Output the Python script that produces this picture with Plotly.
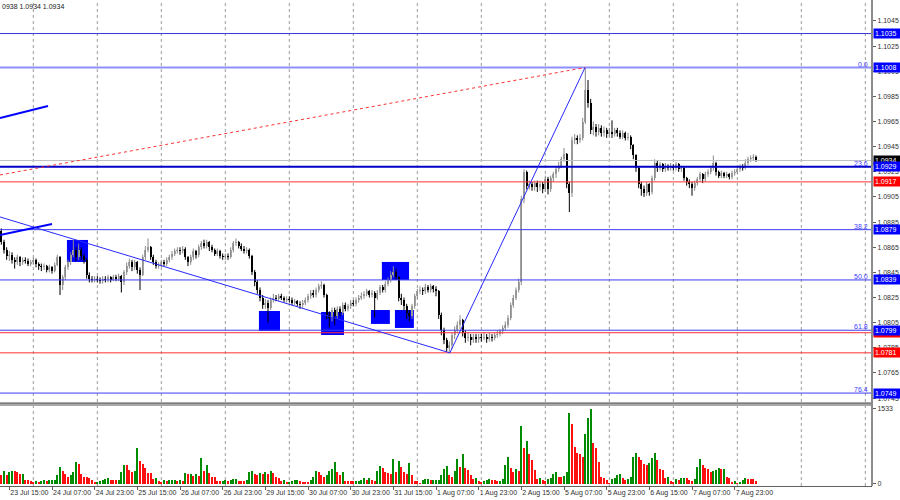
import plotly.graph_objects as go

# ---------------- DATA ----------------
START_BAR = -3            # bar index of first candle (0 = 23 Jul 15:00), H1 bars
first_open = 1.0878

close = [
    # 23 Jul (tail)
    1.0869, 1.0863, 1.0858, 1.0859, 1.0855, 1.0853, 1.0857, 1.0853, 1.0855, 1.0854, 1.0852, 1.0853,
    # 24 Jul
    1.0855, 1.0852, 1.0850, 1.0849, 1.0850, 1.0847, 1.0849, 1.0846, 1.0851, 1.0857, 1.0835, 1.0841,
    1.0849, 1.0853, 1.0859, 1.0863, 1.0857, 1.0863, 1.0858, 1.0855, 1.0843, 1.0840, 1.0839, 1.0840,
    # 25 Jul
    1.0839, 1.0838, 1.0840, 1.0839, 1.0841, 1.0839, 1.0841, 1.0840, 1.0842, 1.0837, 1.0845, 1.0850,
    1.0853, 1.0849, 1.0853, 1.0847, 1.0843, 1.0857, 1.0863, 1.0865, 1.0857, 1.0853, 1.0850, 1.0851,
    # 26 Jul
    1.0853, 1.0852, 1.0855, 1.0857, 1.0860, 1.0862, 1.0863, 1.0862, 1.0864, 1.0857, 1.0853, 1.0857,
    1.0862, 1.0859, 1.0865, 1.0868, 1.0866, 1.0869, 1.0865, 1.0863, 1.0860, 1.0862, 1.0858, 1.0857,
    # 29 Jul
    1.0858, 1.0857, 1.0863, 1.0868, 1.0869, 1.0866, 1.0864, 1.0862, 1.0863, 1.0858, 1.0845, 1.0837,
    1.0831, 1.0825, 1.0819, 1.0821, 1.0817, 1.0823, 1.0825, 1.0824, 1.0826, 1.0825, 1.0823, 1.0824,
    # 30 Jul
    1.0823, 1.0821, 1.0822, 1.0820, 1.0819, 1.0821, 1.0823, 1.0826, 1.0829, 1.0827, 1.0831, 1.0834,
    1.0835, 1.0827, 1.0811, 1.0809, 1.0815, 1.0810, 1.0816, 1.0813, 1.0819, 1.0816, 1.0818, 1.0821,
    # 31 Jul
    1.0820, 1.0823, 1.0825, 1.0826, 1.0828, 1.0830, 1.0827, 1.0829, 1.0825, 1.0829, 1.0833, 1.0831,
    1.0836, 1.0839, 1.0843, 1.0845, 1.0841, 1.0825, 1.0823, 1.0818, 1.0813, 1.0810, 1.0818, 1.0826,
    # 1 Aug
    1.0830, 1.0831, 1.0830, 1.0833, 1.0831, 1.0834, 1.0832, 1.0830, 1.0811, 1.0799, 1.0791, 1.0785,
    1.0787, 1.0795, 1.0799, 1.0803, 1.0807, 1.0797, 1.0793, 1.0794, 1.0791, 1.0794, 1.0792, 1.0794,
    # 2 Aug
    1.0793, 1.0794, 1.0792, 1.0794, 1.0793, 1.0795, 1.0796, 1.0798, 1.0801, 1.0803, 1.0809, 1.0819,
    1.0825, 1.0831, 1.0837, 1.0903, 1.0925, 1.0914, 1.0915, 1.0913, 1.0916, 1.0913, 1.0915, 1.0911,
    # 5 Aug
    1.0919, 1.0911, 1.0920, 1.0923, 1.0927, 1.0930, 1.0935, 1.0939, 1.0915, 1.0908, 1.0950, 1.0952,
    1.0950, 1.0952, 1.0965, 1.0990, 1.0980, 1.0958, 1.0961, 1.0957, 1.0960, 1.0956, 1.0958, 1.0955,
    # 6 Aug
    1.0957, 1.0955, 1.0958, 1.0956, 1.0953, 1.0956, 1.0952, 1.0953, 1.0946, 1.0938, 1.0928, 1.0915,
    1.0911, 1.0908, 1.0915, 1.0909, 1.0920, 1.0932, 1.0928, 1.0931, 1.0927, 1.0930, 1.0928, 1.0930,
    # 7 Aug
    1.0928, 1.0931, 1.0927, 1.0928, 1.0920, 1.0917, 1.0915, 1.0912, 1.0916, 1.0919, 1.0923, 1.0919,
    1.0923, 1.0925, 1.0928, 1.0932, 1.0925, 1.0922, 1.0924, 1.0922, 1.0923, 1.0921, 1.0924, 1.0925,
    # 8 Aug
    1.0927, 1.0929, 1.0928, 1.0932, 1.0935, 1.0936, 1.0937, 1.0934,
]

high = [
    1.0880, 1.0871, 1.0865, 1.0862, 1.0861, 1.0857, 1.0859, 1.0858, 1.0857, 1.0857, 1.0856, 1.0855,
    1.0857, 1.0856, 1.0853, 1.0852, 1.0852, 1.0851, 1.0851, 1.0850, 1.0853, 1.0859, 1.0858, 1.0843,
    1.0851, 1.0855, 1.0861, 1.0871, 1.0865, 1.0868, 1.0865, 1.0860, 1.0856, 1.0845, 1.0842, 1.0842,
    1.0842, 1.0841, 1.0842, 1.0842, 1.0843, 1.0842, 1.0843, 1.0843, 1.0844, 1.0843, 1.0847, 1.0853,
    1.0856, 1.0855, 1.0855, 1.0854, 1.0849, 1.0859, 1.0866, 1.0872, 1.0866, 1.0859, 1.0855, 1.0853,
    1.0855, 1.0855, 1.0857, 1.0859, 1.0862, 1.0864, 1.0865, 1.0865, 1.0866, 1.0865, 1.0858, 1.0859,
    1.0864, 1.0863, 1.0867, 1.0870, 1.0871, 1.0871, 1.0870, 1.0867, 1.0864, 1.0864, 1.0863, 1.0860,
    1.0860, 1.0860, 1.0865, 1.0870, 1.0872, 1.0870, 1.0868, 1.0866, 1.0865, 1.0864, 1.0859, 1.0847,
    1.0839, 1.0833, 1.0827, 1.0824, 1.0823, 1.0825, 1.0828, 1.0827, 1.0828, 1.0828, 1.0826, 1.0826,
    1.0826, 1.0825, 1.0824, 1.0823, 1.0822, 1.0823, 1.0825, 1.0828, 1.0831, 1.0831, 1.0833, 1.0836,
    1.0838, 1.0836, 1.0828, 1.0814, 1.0817, 1.0817, 1.0818, 1.0818, 1.0821, 1.0821, 1.0820, 1.0823,
    1.0823, 1.0825, 1.0827, 1.0829, 1.0830, 1.0832, 1.0831, 1.0831, 1.0830, 1.0831, 1.0835, 1.0835,
    1.0838, 1.0841, 1.0846, 1.0850, 1.0848, 1.0842, 1.0828, 1.0825, 1.0820, 1.0815, 1.0820, 1.0828,
    1.0832, 1.0834, 1.0833, 1.0836, 1.0835, 1.0836, 1.0835, 1.0834, 1.0831, 1.0813, 1.0801, 1.0793,
    1.0790, 1.0797, 1.0802, 1.0806, 1.0811, 1.0808, 1.0799, 1.0797, 1.0796, 1.0796, 1.0796, 1.0796,
    1.0796, 1.0797, 1.0796, 1.0797, 1.0796, 1.0797, 1.0799, 1.0800, 1.0803, 1.0806, 1.0811, 1.0821,
    1.0827, 1.0833, 1.0840, 1.0906, 1.0927, 1.0926, 1.0918, 1.0917, 1.0918, 1.0918, 1.0918, 1.0917,
    1.0922, 1.0921, 1.0922, 1.0925, 1.0929, 1.0933, 1.0937, 1.0944, 1.0940, 1.0917, 1.0953, 1.0955,
    1.0954, 1.0955, 1.0968, 1.1008, 1.0998, 1.0983, 1.0965, 1.0963, 1.0963, 1.0962, 1.0961, 1.0960,
    1.0960, 1.0966, 1.0960, 1.0960, 1.0958, 1.0958, 1.0957, 1.0956, 1.0954, 1.0947, 1.0939, 1.0929,
    1.0917, 1.0914, 1.0917, 1.0916, 1.0922, 1.0935, 1.0934, 1.0933, 1.0932, 1.0932, 1.0931, 1.0932,
    1.0931, 1.0933, 1.0932, 1.0930, 1.0929, 1.0921, 1.0919, 1.0917, 1.0918, 1.0921, 1.0925, 1.0924,
    1.0925, 1.0927, 1.0930, 1.0938, 1.0933, 1.0926, 1.0926, 1.0925, 1.0925, 1.0924, 1.0926, 1.0927,
    1.0929, 1.0931, 1.0931, 1.0935, 1.0937, 1.0938, 1.0939, 1.0938,
]

low = [
    1.0867, 1.0860, 1.0855, 1.0854, 1.0852, 1.0848, 1.0851, 1.0850, 1.0851, 1.0852, 1.0850, 1.0850,
    1.0851, 1.0849, 1.0847, 1.0846, 1.0847, 1.0845, 1.0845, 1.0844, 1.0845, 1.0850, 1.0827, 1.0831,
    1.0839, 1.0847, 1.0851, 1.0857, 1.0854, 1.0855, 1.0855, 1.0852, 1.0840, 1.0837, 1.0837, 1.0837,
    1.0837, 1.0836, 1.0836, 1.0837, 1.0837, 1.0837, 1.0838, 1.0838, 1.0838, 1.0829, 1.0835, 1.0843,
    1.0848, 1.0846, 1.0847, 1.0844, 1.0831, 1.0842, 1.0855, 1.0861, 1.0855, 1.0851, 1.0848, 1.0848,
    1.0849, 1.0850, 1.0850, 1.0853, 1.0855, 1.0858, 1.0860, 1.0859, 1.0860, 1.0855, 1.0850, 1.0851,
    1.0855, 1.0856, 1.0857, 1.0863, 1.0864, 1.0864, 1.0862, 1.0861, 1.0858, 1.0858, 1.0856, 1.0855,
    1.0855, 1.0855, 1.0856, 1.0861, 1.0866, 1.0864, 1.0862, 1.0860, 1.0860, 1.0856, 1.0843, 1.0834,
    1.0828, 1.0822, 1.0816, 1.0816, 1.0805, 1.0815, 1.0821, 1.0822, 1.0822, 1.0823, 1.0821, 1.0821,
    1.0821, 1.0819, 1.0819, 1.0818, 1.0816, 1.0817, 1.0819, 1.0821, 1.0824, 1.0825, 1.0825, 1.0829,
    1.0832, 1.0825, 1.0808, 1.0801, 1.0806, 1.0803, 1.0808, 1.0810, 1.0811, 1.0814, 1.0814, 1.0816,
    1.0818, 1.0818, 1.0821, 1.0823, 1.0824, 1.0826, 1.0825, 1.0825, 1.0809, 1.0823, 1.0827, 1.0829,
    1.0829, 1.0834, 1.0837, 1.0841, 1.0839, 1.0822, 1.0819, 1.0815, 1.0808, 1.0806, 1.0808, 1.0816,
    1.0824, 1.0828, 1.0827, 1.0828, 1.0829, 1.0829, 1.0829, 1.0826, 1.0808, 1.0795, 1.0788, 1.0782,
    1.0781, 1.0784, 1.0792, 1.0797, 1.0800, 1.0794, 1.0789, 1.0790, 1.0787, 1.0789, 1.0789, 1.0789,
    1.0790, 1.0791, 1.0789, 1.0790, 1.0790, 1.0791, 1.0793, 1.0794, 1.0796, 1.0799, 1.0801, 1.0807,
    1.0817, 1.0823, 1.0829, 1.0835, 1.0900, 1.0911, 1.0911, 1.0910, 1.0910, 1.0909, 1.0910, 1.0908,
    1.0909, 1.0907, 1.0909, 1.0917, 1.0920, 1.0925, 1.0928, 1.0933, 1.0912, 1.0893, 1.0905, 1.0947,
    1.0947, 1.0948, 1.0950, 1.0963, 1.0976, 1.0955, 1.0954, 1.0953, 1.0954, 1.0953, 1.0953, 1.0952,
    1.0953, 1.0952, 1.0953, 1.0953, 1.0951, 1.0951, 1.0950, 1.0950, 1.0943, 1.0935, 1.0925, 1.0912,
    1.0906, 1.0905, 1.0906, 1.0906, 1.0907, 1.0918, 1.0925, 1.0926, 1.0925, 1.0925, 1.0926, 1.0926,
    1.0926, 1.0926, 1.0925, 1.0925, 1.0918, 1.0914, 1.0912, 1.0906, 1.0910, 1.0914, 1.0917, 1.0916,
    1.0917, 1.0921, 1.0923, 1.0926, 1.0922, 1.0920, 1.0920, 1.0920, 1.0920, 1.0919, 1.0919, 1.0922,
    1.0923, 1.0925, 1.0926, 1.0927, 1.0930, 1.0933, 1.0934, 1.0933,
]

volume = [
    184, 266, 184, 252, 273, 266, 252, 204, 210, 82,
    80, 61, 48, 61, 48, 68, 82, 61, 75, 78,
    82, 184, 354, 266, 204, 150, 184, 252, 457, 409,
    204, 150, 148, 116, 82, 48, 50, 52, 82, 102,
    116, 82, 80, 78, 82, 252, 388, 385, 286, 252,
    273, 729, 477, 409, 320, 218, 215, 102, 116, 68,
    48, 82, 61, 82, 84, 86, 61, 75, 61, 218,
    204, 206, 164, 204, 164, 525, 273, 388, 218, 150,
    148, 68, 64, 70, 75, 61, 82, 95, 98, 68,
    61, 58, 82, 239, 273, 204, 184, 218, 204, 252,
    204, 266, 232, 136, 130, 68, 75, 48, 50, 61,
    75, 78, 61, 48, 46, 44, 82, 136, 273, 252,
    184, 150, 184, 273, 300, 457, 252, 184, 252, 68,
    66, 61, 58, 61, 64, 82, 116, 82, 116, 82,
    68, 273, 368, 320, 252, 218, 204, 504, 252, 463,
    354, 252, 204, 422, 184, 68, 66, 27, 82, 95,
    98, 82, 85, 88, 90, 184, 300, 368, 184,
    150, 273, 504, 354, 613, 320, 286, 184, 95, 116,
    61, 48, 61, 82, 95, 82, 80, 61, 68, 95,
    388, 545, 320, 252, 300, 273, 1186, 729, 879, 613,
    490, 286, 102, 116, 82, 68, 102, 116, 204, 239,
    150, 136, 164, 252, 1444, 1226, 750, 640, 613, 559,
    1015, 1342, 1533, 845, 729, 457, 136, 116, 82, 27,
    95, 116, 184, 204, 116, 82, 102, 136, 545, 640,
    545, 490, 402, 382, 422, 525, 627, 490, 300, 286,
    116, 150, 68, 48, 95, 82, 116, 130, 125, 82,
    68, 102, 354, 504, 388, 320, 300, 252, 260, 286,
    320, 300, 310, 136, 130, 48, 61, 27, 48, 82,
    116, 102, 95, 92, 68,
]

tick_bars = [0, 16, 32, 48, 64, 80, 96, 112, 128, 144, 160, 176, 192, 208, 224, 240, 256, 272]
tick_labels = ["23 Jul 15:00", "24 Jul 07:00", "24 Jul 23:00", "25 Jul 15:00", "26 Jul 07:00",
               "26 Jul 23:00", "29 Jul 15:00", "30 Jul 07:00", "30 Jul 23:00", "31 Jul 15:00",
               "1 Aug 07:00", "1 Aug 23:00", "2 Aug 15:00", "5 Aug 07:00", "5 Aug 23:00",
               "6 Aug 15:00", "7 Aug 07:00", "7 Aug 23:00"]
day_start_bars = [9, 33, 57, 81, 105, 129, 153, 177, 201, 225, 249, 273, 297, 321]

price_ticks = [1.0745, 1.0765, 1.0785, 1.0805, 1.0825, 1.0845, 1.0865, 1.0885,
               1.0905, 1.0925, 1.0945, 1.0965, 1.0985, 1.1005, 1.1025, 1.1045]

level_prices = [1.1035, 1.1008, 1.0934, 1.0929, 1.0917, 1.0879, 1.0839, 1.0797, 1.0799, 1.0781, 1.0749]
level_kinds = ["res", "fib0", "bid", "fib", "red", "fib", "fib", "red", "fib", "red", "fib"]

fib_names = ["0.0", "23.6", "38.2", "50.0", "61.8", "76.4"]
fib_prices = [1.1008, 1.0929, 1.0879, 1.0839, 1.0799, 1.0749]

# drawn objects (bar index, price)
trend_lines = [
    (-3.5, 1.08891, 165.2, 1.0781, "thin"),
    (165.2, 1.0781, 215.9, 1.1008, "thin"),
    (-3.5, 1.09225, 215.9, 1.1008, "dot"),
    (-3.5, 1.09678, 14.5, 1.09774, "thick"),
    (-3.5, 1.08748, 16.0, 1.08835, "thick"),
]
boxes = [
    (21.6, 29.5, 1.08533, 1.08708),
    (93.6, 101.5, 1.07984, 1.08143),
    (116.9, 125.5, 1.07952, 1.08135),
    (135.6, 142.7, 1.08040, 1.08151),
    (139.7, 149.9, 1.08390, 1.08533),
    (144.6, 151.7, 1.08008, 1.08151),
]
header_text = "0938 1.0934 1.0934"
volume_max_label = 1533

# ---------------- LAYOUT GEOMETRY ----------------
W, H = 900, 500
PLOT_R = 872          # px, right edge of plotting area
MAIN_BOT = 403        # px
VOL_TOP, VOL_BOT = 406, 486
X_RANGE = [-3.5, 323.5]
Y_RANGE = [1.07411, 1.10617]
V_RANGE = [-41, 1594]

def py(p):  # pixel y -> paper
    return 1 - p / H

def px(p):
    return p / W

n = min(len(close), len(high), len(low), len(volume))
close, high, low, volume = close[:n], high[:n], low[:n], volume[:n]
idx = list(range(START_BAR, START_BAR + n))
opens = [first_open] + close[:-1]

FONT = "Liberation Sans, Arial, sans-serif"
BULL_BODY, BULL_WICK = "#a6a6a6", "#8a8a8a"
BEAR_BODY, BEAR_WICK = "#000000", "#000000"

fig = go.Figure()

for bull in (True, False):
    xs, ys = [], []
    for i, o, h, l, c in zip(idx, opens, high, low, close):
        if (c >= o) == bull:
            xs += [i, i, None]
            ys += [l, h, None]
    fig.add_trace(go.Scatter(x=xs, y=ys, mode="lines", xaxis="x", yaxis="y",
                             line=dict(color=BULL_WICK if bull else BEAR_WICK, width=1),
                             hoverinfo="skip", showlegend=False))

bases, heights, colors = [], [], []
for o, c in zip(opens, close):
    bases.append(min(o, c))
    heights.append(max(abs(c - o), 0.00009))
    colors.append(BULL_BODY if c >= o else BEAR_BODY)
fig.add_trace(go.Bar(x=idx, y=heights, base=bases, width=0.75, xaxis="x", yaxis="y",
                     marker=dict(color=colors, line=dict(width=0)), hoverinfo="skip",
                     showlegend=False))

# volumes (MT4 Volumes: green if above previous bar, red otherwise)
vcolors = []
for k, v in enumerate(volume):
    up = k > 0 and v > volume[k - 1]
    vcolors.append("#008c00" if up else "#ff1010")
fig.add_trace(go.Bar(x=idx, y=volume, width=0.78, xaxis="x2", yaxis="y2",
                     marker=dict(color=vcolors, line=dict(width=0)), hoverinfo="skip",
                     showlegend=False))

shapes = []
for b in day_start_bars:
    shapes.append(dict(type="line", xref="x", yref="paper", x0=b, x1=b,
                       y0=py(VOL_BOT), y1=1, layer="below",
                       line=dict(color="#9a9a9a", width=1, dash="dot")))
for x0, x1, y0, y1 in boxes:
    shapes.append(dict(type="rect", xref="x", yref="y", x0=x0, x1=x1, y0=y0, y1=y1,
                       layer="below", fillcolor="#0000ff", line=dict(width=0)))
level_style = {
    "res": dict(color="#3434d8", width=1),
    "fib0": dict(color="#8e8eff", width=2),
    "bid": dict(color="#c0c0c0", width=1),
    "fib": dict(color="#3c3cf0", width=1),
    "red": dict(color="#ff3030", width=1),
}
for p, kind in zip(level_prices, level_kinds):
    st = dict(level_style[kind])
    if kind == "fib" and abs(p - 1.0929) < 1e-6:
        st = dict(color="#0000c8", width=2)
    shapes.append(dict(type="line", xref="paper", yref="y", x0=0, x1=px(PLOT_R),
                       y0=p, y1=p, layer="above", line=st))
for x0, y0, x1, y1, kind in trend_lines:
    if kind == "thin":
        ln = dict(color="#2828ff", width=1)
    elif kind == "thick":
        ln = dict(color="#0000ff", width=2)
    else:
        ln = dict(color="#ff3030", width=1, dash="dot")
    shapes.append(dict(type="line", xref="x", yref="y", x0=x0, y0=y0, x1=x1, y1=y1,
                       layer="above", line=ln))
shapes.append(dict(type="rect", xref="paper", yref="paper", x0=0, x1=px(PLOT_R),
                   y0=py(VOL_TOP), y1=py(MAIN_BOT), fillcolor="#a8a8a8",
                   line=dict(width=0), layer="above"))
shapes.append(dict(type="line", xref="paper", yref="paper", x0=0, x1=px(PLOT_R),
                   y0=py(MAIN_BOT), y1=py(MAIN_BOT), line=dict(color="#505050", width=1),
                   layer="above"))
shapes.append(dict(type="line", xref="paper", yref="paper", x0=px(PLOT_R), x1=px(PLOT_R),
                   y0=py(VOL_BOT), y1=1, line=dict(color="#8c8c8c", width=2), layer="above"))

annotations = []
tag_colors = {"res": "#0000ff", "fib0": "#0000ff", "bid": "#000000", "fib": "#0000ff", "red": "#ff0000"}
for p, kind in zip(level_prices, level_kinds):
    annotations.append(dict(xref="paper", yref="y", x=px(PLOT_R + 1), y=p, xanchor="left",
                            yanchor="middle", text=f"{p:.4f}", showarrow=False,
                            bgcolor=tag_colors[kind], borderpad=1, width=24, align="left",
                            font=dict(family=FONT, size=7, color="#ffffff")))
for name, p in zip(fib_names, fib_prices):
    annotations.append(dict(xref="paper", yref="y", x=px(PLOT_R - 2), y=p, xanchor="right",
                            yanchor="bottom", text=name, showarrow=False, yshift=-2,
                            font=dict(family=FONT, size=7, color="#3c3cff")))
annotations.append(dict(xref="paper", yref="paper", x=0, y=py(6), xanchor="left",
                        yanchor="middle", text=header_text, showarrow=False,
                        font=dict(family=FONT, size=7, color="#202020")))

fig.update_layout(
    width=W, height=H, template="none",
    margin=dict(l=0, r=0, t=0, b=0, pad=0),
    paper_bgcolor="#ffffff", plot_bgcolor="#ffffff",
    showlegend=False, hovermode=False, bargap=0,
    shapes=shapes, annotations=annotations,
    xaxis=dict(domain=[0, px(PLOT_R)], range=X_RANGE, anchor="y", showgrid=False,
               zeroline=False, showticklabels=False, ticks="", showline=False,
               rangeslider=dict(visible=False), automargin=False),
    yaxis=dict(domain=[py(MAIN_BOT), 1], range=Y_RANGE, side="right", anchor="x",
               showgrid=False, zeroline=False, tickvals=price_ticks,
               ticktext=[f"{t:.4f}" for t in price_ticks], ticks="outside", ticklen=3,
               tickcolor="#606060", tickfont=dict(family=FONT, size=7, color="#303030"),
               showline=False, automargin=False),
    xaxis2=dict(domain=[0, px(PLOT_R)], range=X_RANGE, anchor="y2", matches="x",
                showgrid=False, zeroline=False, tickvals=tick_bars, ticktext=tick_labels,
                ticks="outside", ticklen=3, tickcolor="#606060", tickangle=0,
                ticklabelposition="outside right",
                tickfont=dict(family=FONT, size=7, color="#303030"),
                showline=True, linecolor="#606060", linewidth=1, automargin=False),
    yaxis2=dict(domain=[py(VOL_BOT), py(VOL_TOP)], range=V_RANGE, side="right", anchor="x2",
                showgrid=False, zeroline=False, tickvals=[0, volume_max_label],
                ticktext=["0", str(volume_max_label)], ticks="outside", ticklen=3,
                tickcolor="#606060", tickfont=dict(family=FONT, size=7, color="#303030"),
                showline=False, automargin=False),
)

fig.write_html("out.html", config={"displayModeBar": False, "staticPlot": True},
               post_script="document.body.style.margin='0';document.body.style.padding='0';"
                           "document.documentElement.style.margin='0';")
